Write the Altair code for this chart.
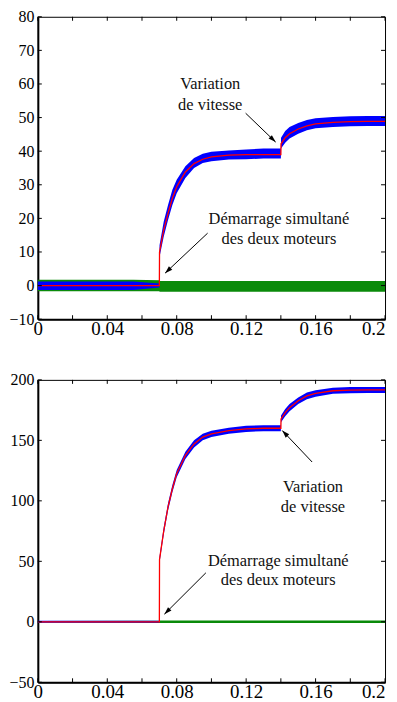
import math
import altair as alt
import pandas as pd

# ---------------- data ----------------
T = [0.0, 0.055, 0.07, 0.0701, 0.0725, 0.075, 0.0775, 0.08, 0.085, 0.09, 0.095, 0.10,
     0.11, 0.12, 0.13, 0.14, 0.1401, 0.1425, 0.145, 0.15, 0.155, 0.16, 0.17, 0.18, 0.19, 0.20]

# panel 1
RED1 = [0, 0, 0, 10, 16.5, 21.5, 26, 29.4, 33.8, 36.3, 37.6, 38.3,
        38.8, 39, 39, 39, 42.2, 44, 45.2, 46.6, 47.5, 48.1, 48.6, 48.8, 48.9, 48.9]
BLUE1_HI = [1.2, 1.2, 0.6, 12, 19, 24, 28.5, 31.5, 35.5, 38, 39.2, 39.8,
            40.2, 40.5, 40.8, 40.8, 44, 46, 47.2, 48.4, 49.3, 49.8, 50.2, 50.4, 50.5, 50.5]
BLUE1_LO = [-1.3, -1.3, -0.6, 8.5, 14.5, 19.5, 24, 27.5, 32, 35, 36.5, 37,
            37.5, 37.6, 37.8, 37.8, 40.8, 42.5, 43.8, 45.2, 46.2, 46.8, 47.2, 47.4, 47.5, 47.5]
GREEN1_HI = [1.7, 1.7, 1.6, 1.4, 1.4, 1.4, 1.4, 1.4, 1.4, 1.4, 1.4, 1.4,
             1.4, 1.4, 1.4, 1.4, 1.4, 1.4, 1.4, 1.4, 1.4, 1.4, 1.4, 1.4, 1.4, 1.4]
GREEN1_LO = [-1.7, -1.7, -1.7, -1.8, -1.8, -1.8, -1.8, -1.8, -1.8, -1.8, -1.8, -1.8,
             -1.8, -1.8, -1.8, -1.8, -1.8, -1.8, -1.8, -1.8, -1.8, -1.8, -1.8, -1.8, -1.8, -1.8]

# panel 2
RED2 = [0, 0, 0, 51.4, 75, 95, 110, 122.6, 137.6, 147, 152.7, 155.4,
        158, 159.5, 160, 160, 167.7, 173, 177, 182.8, 186.8, 188.8, 191, 191.5, 191.7, 191.7]
BLUE2_HI = [0.8, 0.8, 0.8, 54, 78, 98, 113, 125.5, 140.5, 150, 155.5, 158,
            160.5, 162, 162.5, 162.5, 170.5, 176, 180, 185.5, 189.5, 191.5, 193.5, 194, 194.2, 194.2]
BLUE2_LO = [-0.8, -0.8, -0.8, 49, 72, 92, 107, 119.5, 134.5, 144, 150, 152.8,
            155.5, 157, 157.5, 157.5, 165, 170, 174, 180, 184, 186, 188.5, 189, 189.2, 189.2]
GREEN2_HI = [0.6, 0.8, 0.9, 1.1, 1.1, 1.1, 1.1, 1.1, 1.1, 1.1, 1.1, 1.1,
             1.1, 1.1, 1.1, 1.1, 1.1, 1.1, 1.1, 1.1, 1.1, 1.1, 1.1, 1.1, 1.1, 1.1]
GREEN2_LO = [-0.6, -0.8, -0.9, -1.0, -1.0, -1.0, -1.0, -1.0, -1.0, -1.0, -1.0, -1.0,
             -1.0, -1.0, -1.0, -1.0, -1.0, -1.0, -1.0, -1.0, -1.0, -1.0, -1.0, -1.0, -1.0, -1.0]

X_TICKS = [0, 0.02, 0.04, 0.06, 0.08, 0.10, 0.12, 0.14, 0.16, 0.18, 0.20]
X_LABELS = [0, 0.04, 0.08, 0.12, 0.16, 0.2]
Y1_TICKS = [-10, 0, 10, 20, 30, 40, 50, 60, 70, 80]
Y2_TICKS = [-50, 0, 50, 100, 150, 200]

TEXT1 = [("Variation", 0.0993, 60.0), ("de vitesse", 0.0993, 53.8),
         ("Démarrage simultané", 0.1389, 19.8), ("des deux moteurs", 0.1389, 13.9)]
ARROWS1 = [(0.1197, 51.3, 0.137, 42.7), (0.0978, 15.6, 0.0733, 3.7)]
TEXT2 = [("Variation", 0.1585, 111.6), ("de vitesse", 0.1585, 95.2),
         ("Démarrage simultané", 0.1385, 50.6), ("des deux moteurs", 0.1385, 34.5)]
ARROWS2 = [(0.158, 132.1, 0.1408, 158.1), (0.0968, 40.5, 0.0729, 6.3)]

W, H = 349, 304
FONT = "Liberation Serif"
HEAD = "M0,0L-0.32,1L0.32,1Z"


def panel(red, bhi, blo, ghi, glo, yticks, texts, arrows):
    ydom = [yticks[0], yticks[-1]]
    xs = alt.Scale(domain=[0, 0.2], nice=False, zero=False)
    ys = alt.Scale(domain=ydom, nice=False, zero=False)
    xax = alt.Axis(values=X_LABELS, format="~g", labelPadding=0, labelFontSize=19,
                   labelAlign={"condition": {"test": "datum.value >= 0.2", "value": "right"},
                               "value": "center"})
    yax = alt.Axis(values=yticks, labelPadding=4, labelFontSize=16)
    df = pd.DataFrame({"t": T, "red": red, "bhi": bhi, "blo": blo,
                       "ghi": ghi, "glo": glo, "i": list(range(len(T)))})
    base = alt.Chart(df)
    green = base.mark_area(color="#0a8a0a", opacity=1).encode(
        x=alt.X("t:Q", scale=xs, axis=xax), y=alt.Y("glo:Q", scale=ys, axis=yax), y2="ghi:Q")
    blue = base.mark_area(color="#0000ff").encode(
        x=alt.X("t:Q", scale=xs, axis=xax), y=alt.Y("blo:Q", scale=ys, axis=yax), y2="bhi:Q")
    redl = base.mark_line(color="#ff0000", strokeWidth=1.3).encode(
        x=alt.X("t:Q", scale=xs, axis=xax), y=alt.Y("red:Q", scale=ys, axis=yax), order="i:Q")

    xt = pd.DataFrame({"v": X_TICKS})
    yt = pd.DataFrame({"v": yticks})
    tb = alt.Chart(xt).mark_rule(color="black", strokeWidth=1).encode(
        x=alt.X("v:Q", scale=xs, axis=xax), y=alt.value(H), y2=alt.value(H - 4))
    tt = alt.Chart(xt).mark_rule(color="black", strokeWidth=1).encode(
        x=alt.X("v:Q", scale=xs, axis=xax), y=alt.value(0), y2=alt.value(4))
    tl = alt.Chart(yt).mark_rule(color="black", strokeWidth=1).encode(
        y=alt.Y("v:Q", scale=ys, axis=yax), x=alt.value(0), x2=alt.value(4))
    tr = alt.Chart(yt).mark_rule(color="black", strokeWidth=1).encode(
        y=alt.Y("v:Q", scale=ys, axis=yax), x=alt.value(W), x2=alt.value(W - 4))

    tdf = pd.DataFrame(texts, columns=["s", "x", "y"])
    txt = alt.Chart(tdf).mark_text(font=FONT, fontSize=16.5, color="#111",
                                   align="center", baseline="middle").encode(
        x=alt.X("x:Q", scale=xs, axis=xax), y=alt.Y("y:Q", scale=ys, axis=yax), text="s:N")

    rows = []
    for (x0, y0, x1, y1) in arrows:
        dxp = (x1 - x0) / 0.2 * W
        dyp = -(y1 - y0) / (ydom[1] - ydom[0]) * H
        ang = math.degrees(math.atan2(dxp, -dyp)) % 360
        rows.append({"x0": x0, "y0": y0, "x1": x1, "y1": y1, "a": ang})
    adf = pd.DataFrame(rows)
    aline = alt.Chart(adf).mark_rule(color="black", strokeWidth=1).encode(
        x=alt.X("x0:Q", scale=xs, axis=xax), y=alt.Y("y0:Q", scale=ys, axis=yax),
        x2="x1:Q", y2="y1:Q")
    ahead = alt.Chart(adf).mark_point(shape=HEAD, filled=True, color="black",
                                      size=230, opacity=1, strokeWidth=0).encode(
        x=alt.X("x1:Q", scale=xs, axis=xax), y=alt.Y("y1:Q", scale=ys, axis=yax),
        angle=alt.Angle("a:Q", scale=None))

    return alt.layer(green, blue, redl, tb, tt, tl, tr, aline, ahead, txt).properties(
        width=W, height=H)


p1 = panel(RED1, BLUE1_HI, BLUE1_LO, GREEN1_HI, GREEN1_LO, Y1_TICKS, TEXT1, ARROWS1)
p2 = panel(RED2, BLUE2_HI, BLUE2_LO, GREEN2_HI, GREEN2_LO, Y2_TICKS, TEXT2, ARROWS2)

chart = alt.vconcat(p1, p2, spacing=32).properties(
    padding={"left": 0, "top": -2, "right": 0, "bottom": -3}
).configure(background="white", font=FONT).configure_view(
    stroke="black", strokeWidth=1
).configure_axis(
    title=None, ticks=False, grid=False, domainWidth=2, domainColor="black",
    labelFont=FONT, labelColor="black", labelOverlap=False, labelFlush=False
)

chart.save("out.html", embed_options={"renderer": "svg", "actions": False})
